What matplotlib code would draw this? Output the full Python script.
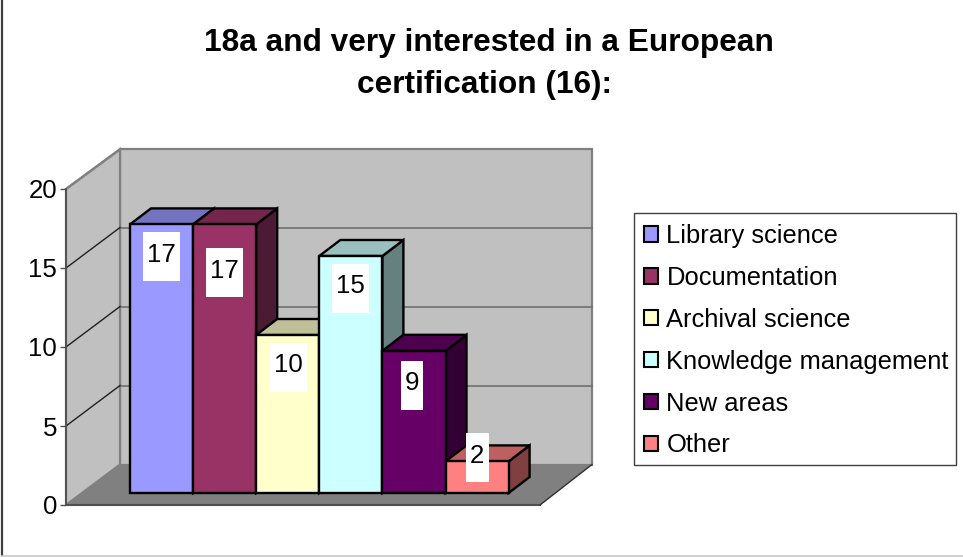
import matplotlib
matplotlib.use("Agg")
import matplotlib.pyplot as plt
from matplotlib.patches import Polygon, Rectangle, Patch
from matplotlib.colors import to_rgb

title_lines = ["18a and very interested in a European", "certification (16):"]
categories = ["Library science", "Documentation", "Archival science",
              "Knowledge management", "New areas", "Other"]
values = [17, 17, 10, 15, 9, 2]
yticks = [0, 5, 10, 15, 20]

colors = ["#9999FF", "#993366", "#FFFFCC", "#CCFFFF", "#660066", "#FF8080"]
label_drop_px = [32.5, 48.5, 32, 32.5, 34.5, -3.5]
label_box_w_px = [37, 37, 37, 37, 22, 23]
label_dx_px = [0, 0, 0.5, 0, -1.5, 0]
title_pos_px = [(489, 42.5), (484, 85)]

W, H = 963, 557
PX_X = 63.1      # px per category
PX_Y = 15.8      # px per value unit
X0, Y0 = 130, 505  # px of category 0 left edge, value 0 front plane

plt.rcParams['font.family'] = ['Liberation Sans', 'DejaVu Sans']
fig = plt.figure(figsize=(W / 100, H / 100), dpi=100, facecolor="white")
ax = fig.add_axes([0, 0, 1, 1])
ax.set_xlim(-X0 / PX_X, (W - X0) / PX_X)
ax.set_ylim((Y0 - H) / PX_Y, Y0 / PX_Y)
ax.patch.set_visible(False)

dxp, dyp = 1 / PX_X, 1 / PX_Y
front_x = (66 - X0) * dxp
right_x = (540 - X0) * dxp
wall_dx, wall_dy = 54 * dxp, 40.5 * dyp
back_x = front_x + wall_dx
back_r = right_x + 52 * dxp
ymax = yticks[-1]
GRAY = "#808080"

# walls and floor
ax.add_patch(Polygon([(back_x, wall_dy), (back_r, wall_dy), (back_r, ymax + wall_dy - 0.05),
                      (back_x, ymax + wall_dy - 0.05)],
                     fc="#C0C0C0", ec=GRAY, lw=1.6, zorder=1))
ax.add_patch(Polygon([(front_x, 0), (back_x, wall_dy), (back_x, ymax + wall_dy - 0.05), (front_x, ymax)],
                     fc="#C0C0C0", ec=GRAY, lw=1.6, zorder=1))
ax.add_patch(Polygon([(front_x, 0), (right_x, 0), (back_r, wall_dy), (back_x, wall_dy)],
                     fc=GRAY, ec="none", zorder=1.5))
ax.plot([front_x, right_x], [0, 0], color="#505050", lw=1.5, zorder=1.6)
ax.plot([right_x, back_r], [0, wall_dy], color="#303030", lw=1.0, zorder=1.6)

# gridlines
for t in yticks[1:-1]:
    ax.plot([back_x, back_r], [t + wall_dy] * 2, color="#707070", lw=1.2, zorder=2)
    ax.plot([front_x, back_x], [t, t + wall_dy], color="#202020", lw=1.0, zorder=2)
ax.plot([front_x, back_x], [ymax, ymax + wall_dy - 0.05], color=GRAY, lw=1.6, zorder=2)

# bars
base = 12 * dyp
ddx, ddy = 21 * dxp, 16 * dyp
for i, (v, c) in enumerate(zip(values, colors)):
    rgb = to_rgb(c)
    top_c = tuple(k * 0.75 for k in rgb)
    side_c = tuple(k * 0.5 for k in rgb)
    z = 3 + i * 0.1
    kw = dict(ec="black", lw=1.7, joinstyle="miter", zorder=z)
    l, r, b, t = i, i + 1, base, base + v
    ax.add_patch(Polygon([(r, b), (r + ddx, b + ddy), (r + ddx, t + ddy), (r, t)], fc=side_c, **kw))
    ax.add_patch(Polygon([(l, t), (r, t), (r + ddx, t + ddy), (l + ddx, t + ddy)], fc=top_c, **kw))
    ax.add_patch(Polygon([(l, b), (r, b), (r, t), (l, t)], fc=c, **kw))

# data labels
for i, v in enumerate(values):
    cx = i + 0.5 + label_dx_px[i] * dxp
    cy = base + v - label_drop_px[i] * dyp
    bw, bh = label_box_w_px[i] * dxp, 49 * dyp
    ax.add_patch(Rectangle((cx - bw / 2, cy - bh / 2), bw, bh, fc="white", ec="none", zorder=4))
    ax.text(cx, cy + 2 * dyp, str(v), ha="center", va="center", fontsize=18.6, color="black", zorder=4.1)

# value axis
for s in ("top", "right", "bottom"):
    ax.spines[s].set_visible(False)
ax.spines["left"].set_position(("data", front_x))
ax.spines["left"].set_bounds(0, ymax)
ax.spines["left"].set_color("#505050")
ax.spines["left"].set_linewidth(1.3)
ax.spines["left"].set_zorder(2.5)
ax.set_xticks([])
ax.set_yticks(yticks)
ax.tick_params(axis="y", direction="out", length=4.5, width=1.0, color="#505050",
               labelsize=18.6, pad=2)

# legend frame and entries
fig.add_artist(Rectangle((634 / W, 1 - 465 / H), 322 / W, 252 / H, transform=fig.transFigure,
                         fc="white", ec="#404040", lw=1.0, zorder=5))
handles = [Patch(fc=c, ec="black", lw=1.5) for c in colors]
leg = ax.legend(handles, categories, loc="upper left",
                bbox_to_anchor=(644 / W, 1 - 224 / H), bbox_transform=fig.transFigure,
                fontsize=18.4, frameon=False,
                borderaxespad=0, borderpad=0, labelspacing=0.70,
                handlelength=0.55, handleheight=0.55, handletextpad=0.33)
leg.set_zorder(6)
fig.add_artist(leg)

# chart title
for line, (px, py) in zip(title_lines, title_pos_px):
    fig.text(px / W, 1 - py / H, line, ha="center", va="center", fontsize=22.8,
             fontweight="bold", color="black")

# chart area frame: left edge dark, bottom edge light, none on top or right
fig.add_artist(plt.Line2D([2 / W, 2 / W], [1 - 555 / H, 1],
                          color="#404040", lw=1.6, transform=fig.transFigure))
fig.add_artist(plt.Line2D([2 / W, 1], [1 - 555.8 / H, 1 - 555.8 / H],
                          color="#C8C8C8", lw=1.2, transform=fig.transFigure))

fig.savefig("out.png", dpi=100)
